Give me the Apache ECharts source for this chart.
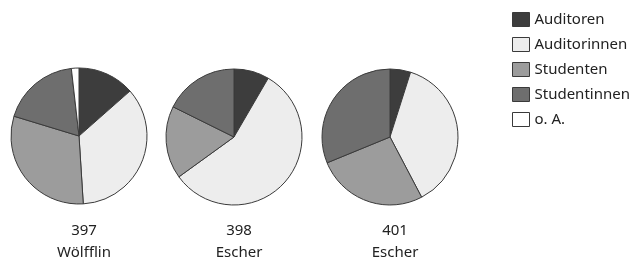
<!DOCTYPE html>
<html>
<head>
<meta charset="utf-8">
<script src="https://cdn.jsdelivr.net/npm/echarts@6/dist/echarts.min.js"></script>
<style>html,body{margin:0;padding:0;background:#fff;}#c{width:635px;height:267px;}</style>
</head>
<body>
<div id="c"></div>
<script>
var categories = ['Auditoren', 'Auditorinnen', 'Studenten', 'Studentinnen', 'o. A.'];
var pieLabels = ['397\nWölfflin', '398\nEscher', '401\nEscher'];
var pie397 = [13.5, 35.5, 30.7, 18.5, 1.8];
var pie398 = [8.4, 56.7, 17.3, 17.7, 0];
var pie401 = [4.9, 37.4, 26.5, 31.2, 0];
var colors = ['#3d3d3d', '#ededed', '#9c9c9c', '#6e6e6e', '#ffffff'];

var values = [pie397, pie398, pie401];
var centers = [[79, 136], [234, 137], [390, 137]];
var font = 'Noto Sans';

function mkData(vals) {
  var d = [];
  for (var i = 0; i < categories.length; i++) {
    if (vals[i] > 0) d.push({ name: categories[i], value: vals[i], itemStyle: { color: colors[i] } });
  }
  return d;
}

var series = values.map(function (v, k) {
  return {
    type: 'pie',
    center: centers[k],
    radius: 68,
    startAngle: 90,
    clockwise: true,
    label: { show: false },
    labelLine: { show: false },
    silent: true,
    animation: false,
    itemStyle: { borderColor: '#3a3a3a', borderWidth: 1 },
    data: mkData(v)
  };
});

var titles = pieLabels.map(function (t, k) {
  return {
    text: t,
    left: centers[k][0],
    top: 215,
    textAlign: 'center',
    textStyle: { fontFamily: font, fontSize: 15, fontWeight: 'normal', color: '#222', lineHeight: 22 }
  };
});

var chart = echarts.init(document.getElementById('c'));
chart.setOption({
  animation: false,
  color: colors,
  title: titles,
  legend: {
    orient: 'vertical',
    left: 507,
    top: 7,
    itemWidth: 17,
    itemHeight: 14,
    itemGap: 10,
    icon: 'rect',
    selectedMode: false,
    data: categories,
    itemStyle: { borderColor: '#3a3a3a', borderWidth: 1 },
    textStyle: { fontFamily: font, fontSize: 15, color: '#222', lineHeight: 14 }
  },
  series: series
});
</script>
</body>
</html>
